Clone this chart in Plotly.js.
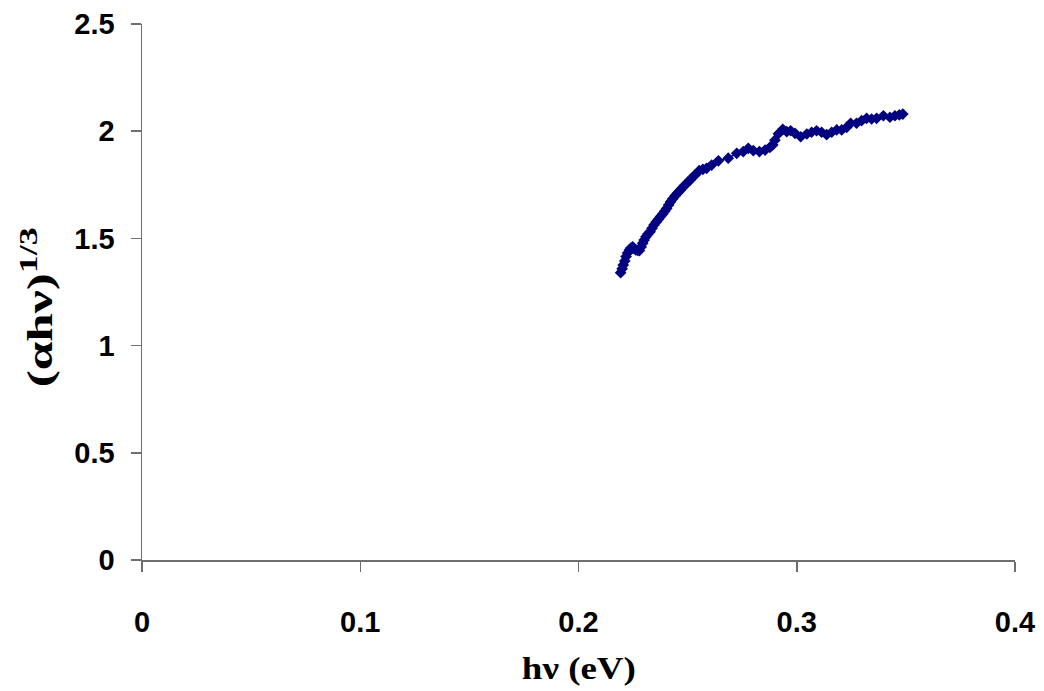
<!DOCTYPE html>
<html>
<head>
<meta charset="utf-8">
<script src="https://cdn.plot.ly/plotly-3.0.1.min.js"></script>
<style>html,body{margin:0;padding:0;background:#fff;}</style>
</head>
<body>
<div id="chart" style="width:1044px;height:691px;"></div>
<script>
const hv = [
  0.2193, 0.2200, 0.2205, 0.2212, 0.2218, 0.2225, 0.2233, 0.2240, 0.2248, 0.2255,
  0.2263, 0.2271, 0.2279, 0.2287, 0.2294, 0.2301, 0.2309, 0.2318, 0.2328, 0.2337,
  0.2346, 0.2356, 0.2366, 0.2376, 0.2386, 0.2395, 0.2404, 0.2413, 0.2422, 0.2432,
  0.2442, 0.2453, 0.2465, 0.2476, 0.2488, 0.2500, 0.2511, 0.2522, 0.2534, 0.2553,
  0.2570, 0.2587, 0.2610, 0.2641, 0.2686, 0.2725, 0.2755, 0.2778, 0.2801, 0.2829,
  0.2855, 0.2877, 0.2890, 0.2900, 0.2916, 0.2936, 0.2954, 0.2972, 0.2992, 0.3018,
  0.3046, 0.3068, 0.3091, 0.3114, 0.3137, 0.3160, 0.3183, 0.3206, 0.3229, 0.3247,
  0.3274, 0.3297, 0.3320, 0.3343, 0.3366, 0.3397, 0.3427, 0.3450, 0.3470, 0.3486
];
const ahv13 = [
  1.340, 1.358, 1.376, 1.395, 1.415, 1.432, 1.446, 1.455, 1.461, 1.452,
  1.446, 1.444, 1.443, 1.460, 1.477, 1.492, 1.508, 1.520, 1.531, 1.547,
  1.563, 1.576, 1.589, 1.602, 1.614, 1.627, 1.640, 1.656, 1.671, 1.685,
  1.698, 1.711, 1.723, 1.736, 1.749, 1.761, 1.772, 1.784, 1.796, 1.816,
  1.822, 1.827, 1.842, 1.862, 1.874, 1.897, 1.905, 1.920, 1.909, 1.905,
  1.912, 1.925, 1.936, 1.958, 1.988, 2.009, 1.998, 2.002, 1.990, 1.974,
  1.987, 1.995, 2.002, 1.995, 1.984, 1.995, 2.006, 2.006, 2.018, 2.037,
  2.037, 2.049, 2.060, 2.057, 2.060, 2.072, 2.065, 2.072, 2.076, 2.080
];
const xTicks = [0, 0.1, 0.2, 0.3, 0.4];
const xTickText = ['0', '0.1', '0.2', '0.3', '0.4'];
const yTicks = [0, 0.5, 1, 1.5, 2, 2.5];
const yTickText = ['0', '0.5', '1', '1.5', '2', '2.5'];
const xTitle = '<b>hν (eV)</b>';
const yTitle = '<b>(αhν)<sup>1/3</sup></b>';

const trace = {
  x: hv, y: ahv13, type: 'scatter', mode: 'lines+markers',
  line: {color: '#000080', width: 1.5},
  marker: {symbol: 'diamond', size: 9, color: '#000080', line: {width: 0}},
  showlegend: false, hoverinfo: 'x+y'
};

const titleFont = {family: '"Liberation Serif", "Times New Roman", serif', color: '#000'};

const layout = {
  width: 1044, height: 691,
  margin: {l: 142, r: 29, t: 24, b: 131},
  paper_bgcolor: '#ffffff', plot_bgcolor: '#ffffff',
  font: {family: '"Liberation Sans", Arial, sans-serif', color: '#000'},
  xaxis: {
    range: [0, 0.4], tickvals: xTicks, ticktext: xTickText,
    showgrid: false, zeroline: false, showline: true, linecolor: '#6e6e6e', linewidth: 1.5,
    ticks: 'outside', ticklen: 10, tickwidth: 1.5, tickcolor: '#6e6e6e',
    ticklabelstandoff: 26,
    tickfont: {family: '"Liberation Sans", Arial, sans-serif', size: 29, color: '#000', weight: 'bold'}
  },
  yaxis: {
    range: [0, 2.5], tickvals: yTicks, ticktext: yTickText,
    showgrid: false, zeroline: false, showline: true, linecolor: '#6e6e6e', linewidth: 1.5,
    ticks: 'outside', ticklen: 10, tickwidth: 1.5, tickcolor: '#6e6e6e',
    ticklabelstandoff: 10,
    tickfont: {family: '"Liberation Sans", Arial, sans-serif', size: 29, color: '#000', weight: 'bold'}
  },
  annotations: [
    {text: xTitle, xref: 'paper', yref: 'paper', x: 0.5, y: -0.2015,
     xanchor: 'center', yanchor: 'middle', showarrow: false,
     font: Object.assign({size: 31}, titleFont)},
    {text: yTitle, xref: 'paper', yref: 'paper', x: -0.1203, y: 0.472,
     xanchor: 'center', yanchor: 'middle', showarrow: false, textangle: -90,
     font: Object.assign({size: 35}, titleFont)}
  ]
};

Plotly.newPlot('chart', [trace], layout, {displayModeBar: false, staticPlot: true}).then(function (gd) {
  // the original titles are horizontally stretched; mimic with textLength
  const texts = gd.querySelectorAll('.annotation-text');
  const lens = [114, 160];
  texts.forEach(function (t, i) {
    if (lens[i]) {
      t.setAttribute('textLength', lens[i]);
      t.setAttribute('lengthAdjust', 'spacingAndGlyphs');
    }
  });
});
</script>
</body>
</html>
